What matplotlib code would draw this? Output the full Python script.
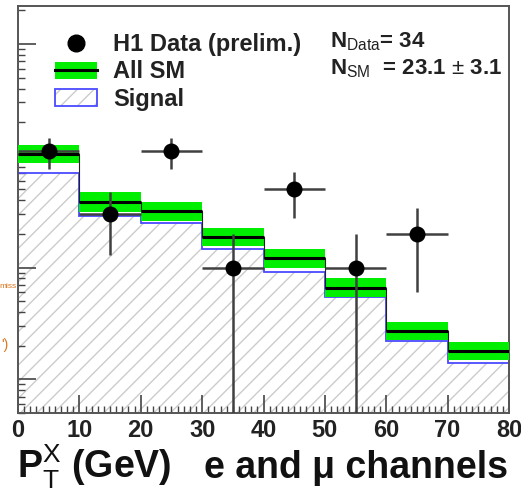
import matplotlib.pyplot as plt
import numpy as np
from matplotlib.lines import Line2D
from matplotlib.patches import Patch

plt.rcParams['font.family'] = ['Liberation Sans', 'DejaVu Sans']
plt.rcParams['mathtext.fontset'] = 'custom'
plt.rcParams['mathtext.rm'] = 'Liberation Sans'
plt.rcParams['mathtext.it'] = 'Liberation Sans:italic'
plt.rcParams['mathtext.bf'] = 'Liberation Sans:bold'
plt.rcParams['hatch.linewidth'] = 1.0

# P_T^X bins (GeV)
edges = [0, 10, 20, 30, 40, 50, 60, 70, 80]

# H1 data (prelim.)
data_x = [5, 15, 25, 35, 45, 55, 65]
data_n = [11, 3, 11, 1, 5, 1, 2]
data_err = [3.3, 1.7, 3.3, 1.0, 2.2, 1.0, 1.4]

# all SM expectation and its uncertainty band
sm = [10.4, 3.87, 3.22, 1.88, 1.22, 0.66, 0.27, 0.18]
sm_lo = [8.6, 3.15, 2.62, 1.55, 1.0, 0.55, 0.225, 0.148]
sm_hi = [12.6, 4.7, 3.9, 2.28, 1.48, 0.80, 0.325, 0.215]

# signal
signal = [7.0, 2.9, 2.5, 1.47, 0.92, 0.54, 0.22, 0.14]

green = '#00ee00'
blue = '#4a4aff'
hatch_grey = '#cccccc'

fig = plt.figure(figsize=(5.21, 4.94), dpi=100)
ax = fig.add_axes([18/521, 1-413/494, 491/521, 407/494])
ax.set_yscale('log')

def ext(v):
    return list(v) + [v[-1]]

ax.fill_between(edges, 1e-3, ext(signal), step='post', facecolor='white',
                edgecolor=hatch_grey, hatch='//', lw=0, zorder=1)
ax.stairs(signal, edges, baseline=None, color=blue, lw=1.3, zorder=2)
ax.fill_between(edges, ext(sm_lo), ext(sm_hi), step='post', color=green, lw=0, zorder=3)
ax.stairs(sm, edges, baseline=None, color='#222222', lw=0.8, zorder=4)
ax.hlines(sm, edges[:-1], edges[1:], color='black', lw=2.2, zorder=4)

halfw = np.diff(edges)[:len(data_x)] / 2
ax.errorbar(data_x, data_n, yerr=data_err, xerr=halfw, fmt='o', color='black',
            ms=10.5, ecolor='#404040', elinewidth=1.8, capsize=0, zorder=5)

ax.set_xlim(0, 80)
ax.set_ylim(0.05, 219)
ax.set_xticks(range(0, 81, 10))
ax.set_xticks(range(0, 81, 1), minor=True)
ax.tick_params(which='both', direction='in', top=False, right=False,
               labelleft=False, color='#444444')
ax.tick_params(which='major', length=13, width=1.2)
ax.tick_params(which='minor', length=5, width=1.0)
ax.tick_params(axis='x', labelsize=17, pad=4)
for lab in ax.get_xticklabels():
    lab.set_fontweight('bold')
    lab.set_color('#222222')
for s in ax.spines.values():
    s.set_color('#555555')
    s.set_linewidth(1.4)

handles = [
    Line2D([], [], marker='o', ls='none', color='black', ms=12),
    (Patch(facecolor=green, lw=0), Line2D([], [], color='black', lw=2.2)),
    (Patch(facecolor='white', edgecolor=hatch_grey, hatch='//', lw=0),
     Patch(fill=False, edgecolor=blue, lw=1.3)),
]
labels = ['H1 Data (prelim.)', 'All SM', 'Signal']
ax.legend(handles, labels, loc='upper left', bbox_to_anchor=(37/491, 1-27/407),
          frameon=False, borderpad=0, borderaxespad=0, handlelength=1.78,
          handleheight=0.76, handletextpad=0.68, labelspacing=0.19,
          prop={'size': 17, 'weight': 'bold'}, labelcolor='#222222')

fig.text(330/521, 1-42/494, r'N$_{\mathrm{Data}}$= 34', fontsize=16,
         fontweight='bold', va='center', color='#222222')
fig.text(330/521, 1-69/494, r'N$_{\mathrm{SM}}$  = 23.1 $\pm$ 3.1', fontsize=16,
         fontweight='bold', va='center', color='#222222')

fig.text(17/521, 1-478/494, r'P$_{\mathrm{T}}^{\mathrm{X}}$ (GeV)',
         fontsize=27, fontweight='bold', va='baseline', ha='left', color='#111111')
fig.text(508/521, 1-478/494, 'e and μ channels',
         fontsize=27, fontweight='bold', va='baseline', ha='right', color='#111111')

# cropped slide text at the left edge
fig.text(17/521, 1-287/494, 'miss', fontsize=6, color='#d9761e', ha='right', va='center')
fig.text(9/521, 1-345/494, "')", fontsize=10, color='#d9761e', ha='right', va='center')

fig.savefig('out.png', dpi=100)
